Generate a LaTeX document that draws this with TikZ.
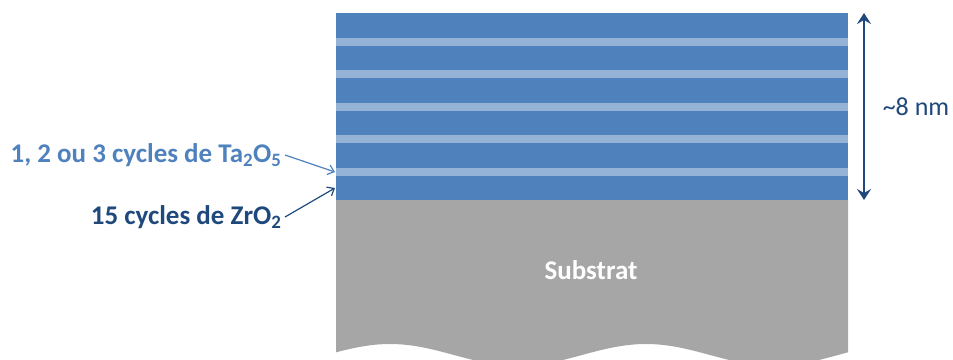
\documentclass[tikz,border=0pt]{standalone}
\usepackage{fontspec}
\setmainfont{Carlito}
\usetikzlibrary{arrows.meta, positioning}
\definecolor{ZrBlue}{RGB}{79, 129, 189}
\definecolor{TaLight}{RGB}{149, 179, 215}
\definecolor{SubGray}{RGB}{166, 166, 166}
\definecolor{DarkBlue}{RGB}{31, 73, 125}

\begin{document}
\begin{tikzpicture}[
    x=1pt, y=-1pt,
    node distance=0pt,
    zrlayer/.style={fill=ZrBlue, inner sep=0pt, outer sep=0pt,
                    minimum width=512pt, minimum height=24.5pt},
    talayer/.style={fill=TaLight, inner sep=0pt, outer sep=0pt,
                    minimum width=512pt, minimum height=8pt},
    lbltext/.style={font=\fontsize{27}{32}\selectfont\bfseries, anchor=east}
]
\useasboundingbox (0,0) rectangle (953,359);
\clip (0,0) rectangle (953,359);
% substrate
\fill[SubGray] (336,200) -- (848,200)
    -- plot[domain=848:336, samples=120] (\x, {355-11*cos(1.40625*(\x-390))}) -- cycle;
\node[font=\fontsize{27}{32}\selectfont\bfseries, text=white] (sub) at (591,270) {Substrat};
% stack
\node[zrlayer, anchor=north west] (z1) at (336,13) {};
\node[talayer, below=of z1] (t1) {};
\node[zrlayer, below=of t1] (z2) {};
\node[talayer, below=of z2] (t2) {};
\node[zrlayer, below=of t2] (z3) {};
\node[talayer, below=of z3] (t3) {};
\node[zrlayer, below=of t3] (z4) {};
\node[talayer, below=of z4] (t4) {};
\node[zrlayer, below=of t4] (z5) {};
\node[talayer, below=of z5] (t5) {};
\node[zrlayer, below=of t5] (z6) {};
% labels
\node[lbltext, text=ZrBlue] (lblTa) at (285,155) {1, 2 ou 3 cycles de Ta\textsubscript{2}O\textsubscript{5}};
\node[lbltext, text=DarkBlue] (lblZr) at (285,217) {15 cycles de ZrO\textsubscript{2}};
\coordinate (tipTa) at (335,172);
\coordinate (tipZr) at (335,188);
\draw[-{Straight Barb[length=6pt, width=10pt]}, ZrBlue, line width=1.2pt] (lblTa.east) -- (tipTa);
\draw[-{Straight Barb[length=6pt, width=10pt]}, DarkBlue, line width=1.2pt] (lblZr.east) -- (tipZr);
% thickness
\coordinate (dimTop) at (864,13);
\coordinate (dimBot) at (864,200);
\draw[{Stealth[length=11pt, width=14pt, inset=4pt]}-{Stealth[length=11pt, width=14pt, inset=4pt]},
      DarkBlue, line width=2.5pt] (dimTop) -- (dimBot);
\node[font=\fontsize{26}{31}\selectfont, text=DarkBlue] (thick) at (916,107) {\textasciitilde 8 nm};
\end{tikzpicture}
\end{document}
